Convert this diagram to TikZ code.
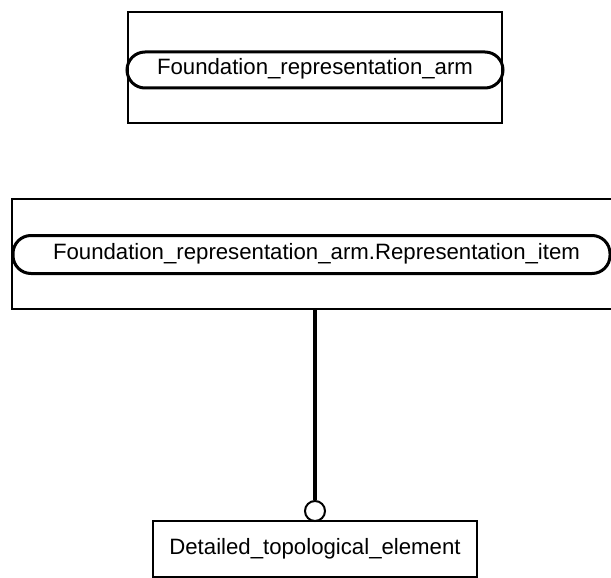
\documentclass[tikz,border=0pt]{standalone}
\usepackage{fontspec}
\setmainfont{Liberation Sans}
\begin{document}
\begin{tikzpicture}[x=1pt,y=-1pt,
  frame/.style={draw, line width=1.5pt, inner sep=0pt, minimum width=#1},
  pill/.style={draw, line width=3pt, rounded corners=18pt, inner sep=0pt, minimum width=#1,
    font=\fontsize{22.2}{26}\selectfont, text height=16pt, text depth=6pt},
  plainbox/.style={draw, line width=1.5pt, inner sep=0pt, minimum width=324pt, minimum height=56pt,
    font=\fontsize{22.2}{26}\selectfont},
  link/.style={line width=3.5pt},
  endcirc/.style={draw, circle, line width=2pt, fill=white, inner sep=0pt, minimum size=20pt}]
\useasboundingbox (0,0) rectangle (611,578);
\node[frame=374pt, minimum height=111pt] (box1) at (315,67.5) {};
\node[pill=376pt, minimum height=36pt] (pill1) at (315,70) {Foundation\_representation\_arm};
\node[frame=600pt, minimum height=110pt] (box2) at (312,254) {};
\node[pill=597pt, minimum height=38pt] (pill2) at (311.5,254.5) {\hspace*{10pt}Foundation\_representation\_arm.Representation\_item};
\node[plainbox] (box3) at (315,549) {Detailed\_topological\_element};
\node[endcirc] (circ) at (315,511) {};
\draw[link] (box2.south -| circ) -- (circ.north);
\end{tikzpicture}
\end{document}
